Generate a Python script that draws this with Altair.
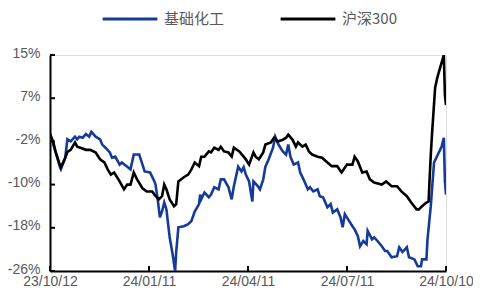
import altair as alt
import pandas as pd

# 沪深300 cumulative return (%)
hs_dates = [
    "2023-10-12", "2023-10-15", "2023-10-17", "2023-10-21", "2023-10-22", "2023-10-26", "2023-10-28",
    "2023-10-31", "2023-11-04", "2023-11-06", "2023-11-09", "2023-11-14", "2023-11-18", "2023-11-23",
    "2023-11-27", "2023-12-01", "2023-12-04", "2023-12-07", "2023-12-10", "2023-12-15", "2023-12-19",
    "2023-12-22", "2023-12-25", "2023-12-28", "2023-12-31", "2024-01-05", "2024-01-09", "2024-01-14",
    "2024-01-16", "2024-01-20", "2024-01-23", "2024-01-25", "2024-01-27", "2024-01-30", "2024-02-03",
    "2024-02-05", "2024-02-07", "2024-02-12", "2024-02-16", "2024-02-19", "2024-02-22", "2024-02-26",
    "2024-02-28", "2024-03-02", "2024-03-06", "2024-03-08", "2024-03-11", "2024-03-15", "2024-03-17",
    "2024-03-20", "2024-03-24", "2024-03-27", "2024-03-29", "2024-04-03", "2024-04-07", "2024-04-09",
    "2024-04-12", "2024-04-16", "2024-04-18", "2024-04-21", "2024-04-25", "2024-04-27", "2024-05-02",
    "2024-05-05", "2024-05-08", "2024-05-13", "2024-05-16", "2024-05-18", "2024-05-22", "2024-05-25",
    "2024-05-27", "2024-05-31", "2024-06-03", "2024-06-06", "2024-06-09", "2024-06-14", "2024-06-18",
    "2024-06-23", "2024-06-27", "2024-07-02", "2024-07-06", "2024-07-11", "2024-07-16", "2024-07-18",
    "2024-07-21", "2024-07-25", "2024-07-29", "2024-08-01", "2024-08-05", "2024-08-12", "2024-08-16",
    "2024-08-21", "2024-08-26", "2024-08-30", "2024-09-04", "2024-09-08", "2024-09-13", "2024-09-15",
    "2024-09-18", "2024-09-22", "2024-09-24", "2024-09-25", "2024-09-26", "2024-09-27", "2024-09-30",
    "2024-10-02", "2024-10-08", "2024-10-09", "2024-10-10",
]
hs_values = [
    0.0, -1.5, -3.3, -5.8, -6.3, -4.5, -3.4,
    -3.0, -1.6, -2.4, -2.6, -3.0, -3.0, -3.5,
    -4.8, -5.4, -6.7, -7.7, -7.3, -9.0, -10.5,
    -9.6, -9.6, -7.3, -8.6, -10.3, -10.9, -10.9,
    -11.5, -12.4, -11.8, -9.6, -10.5, -12.4, -13.7,
    -13.3, -9.0, -8.2, -7.7, -6.7, -5.4, -6.1,
    -4.3, -4.3, -3.3, -3.5, -2.6, -3.0, -2.4,
    -3.3, -3.5, -4.3, -2.6, -3.3, -4.3, -4.8,
    -5.8, -3.5, -4.3, -4.8, -3.5, -2.0, -1.6,
    -0.7, -1.4, -1.1, -0.7, -0.1, -1.1, -2.4,
    -1.6, -2.4, -2.0, -3.3, -3.9, -4.3, -4.5,
    -5.4, -6.1, -6.1, -7.3, -5.8, -5.8, -4.3,
    -5.2, -7.3, -7.1, -8.6, -9.2, -9.6, -9.0,
    -9.9, -9.9, -10.9, -11.8, -13.0, -14.3, -14.3,
    -13.7, -13.0, -12.8, -8.2, -4.0, -0.5, 8.8,
    10.7, 15.0, 7.4, 5.5,
]

# 基础化工 cumulative return (%)
chem_dates = [
    "2023-10-12", "2023-10-17", "2023-10-21", "2023-10-22", "2023-10-26", "2023-10-28", "2023-10-31",
    "2023-11-04", "2023-11-06", "2023-11-08", "2023-11-11", "2023-11-14", "2023-11-17", "2023-11-19",
    "2023-11-23", "2023-11-27", "2023-11-29", "2023-12-02", "2023-12-06", "2023-12-08", "2023-12-11",
    "2023-12-15", "2023-12-17", "2023-12-22", "2023-12-25", "2023-12-28", "2024-01-02", "2024-01-05",
    "2024-01-07", "2024-01-12", "2024-01-16", "2024-01-17", "2024-01-19", "2024-01-21", "2024-01-23",
    "2024-01-25", "2024-01-27", "2024-01-30", "2024-02-02", "2024-02-04", "2024-02-05", "2024-02-07",
    "2024-02-12", "2024-02-16", "2024-02-19", "2024-02-22", "2024-02-26", "2024-02-27", "2024-02-28",
    "2024-03-02", "2024-03-06", "2024-03-08", "2024-03-11", "2024-03-15", "2024-03-17", "2024-03-20",
    "2024-03-24", "2024-03-27", "2024-03-29", "2024-04-02", "2024-04-05", "2024-04-07", "2024-04-09",
    "2024-04-12", "2024-04-15", "2024-04-16", "2024-04-20", "2024-04-22", "2024-04-25", "2024-04-27",
    "2024-04-30", "2024-05-04", "2024-05-06", "2024-05-09", "2024-05-13", "2024-05-16", "2024-05-18",
    "2024-05-20", "2024-05-23", "2024-05-27", "2024-05-29", "2024-06-01", "2024-06-05", "2024-06-07",
    "2024-06-10", "2024-06-14", "2024-06-16", "2024-06-19", "2024-06-23", "2024-06-26", "2024-06-28",
    "2024-07-02", "2024-07-05", "2024-07-07", "2024-07-09", "2024-07-12", "2024-07-16", "2024-07-18",
    "2024-07-21", "2024-07-23", "2024-07-26", "2024-07-29", "2024-07-30", "2024-08-03", "2024-08-05",
    "2024-08-08", "2024-08-12", "2024-08-15", "2024-08-17", "2024-08-21", "2024-08-26", "2024-08-28",
    "2024-08-31", "2024-09-04", "2024-09-06", "2024-09-11", "2024-09-14", "2024-09-17", "2024-09-18",
    "2024-09-22", "2024-09-23", "2024-09-26", "2024-09-29", "2024-10-06", "2024-10-08", "2024-10-09",
    "2024-10-10",
]
chem_values = [
    0.0, -3.3, -6.2, -6.7, -4.5, -1.0, -1.4,
    -0.5, -1.0, -0.5, -0.7, 0.0, -0.5, 0.4,
    -0.5, -1.0, -2.0, -2.6, -3.5, -4.5, -4.3,
    -5.8, -5.4, -6.2, -6.7, -3.9, -3.9, -5.8,
    -7.1, -7.3, -9.0, -9.6, -12.4, -15.8, -14.7,
    -13.0, -14.3, -19.6, -23.2, -26.0, -22.4, -17.7,
    -17.5, -17.1, -16.5, -14.7, -13.3, -11.5, -12.4,
    -11.1, -12.0, -11.5, -10.1, -10.5, -8.6, -8.6,
    -10.1, -12.4, -9.9, -6.2, -7.1, -6.3, -7.7,
    -9.0, -12.8, -9.0, -9.9, -10.5, -8.6, -6.2,
    -4.8, -2.6, -0.5, -2.0, -3.3, -3.9, -2.0,
    -4.3, -5.8, -5.4, -7.3, -8.6, -10.5, -10.1,
    -10.9, -10.5, -11.8, -12.0, -13.9, -13.3, -14.9,
    -14.3, -15.8, -17.7, -15.2, -16.2, -17.5, -18.1,
    -19.4, -21.3, -20.3, -20.9, -18.4, -20.0, -19.6,
    -20.3, -21.3, -22.2, -22.2, -23.4, -23.2, -21.5,
    -22.4, -21.5, -23.4, -23.8, -25.1, -25.1, -23.8,
    -23.8, -20.0, -13.7, -5.4, -2.4, -0.7, -9.0,
    -11.5,
]

series_names = ["基础化工", "沪深300"]
series_colors = ["#163a98", "#000000"]

y_tick_values = [15, 6.8, -1.4, -9.6, -17.8, -26]
y_tick_labels = ["15%", "7%", "-2%", "-10%", "-18%", "-26%"]
x_tick_dates = ["2023-10-12", "2024-01-11", "2024-04-11", "2024-07-11", "2024-10-10"]

df = pd.concat([
    pd.DataFrame({"date": pd.to_datetime(chem_dates), "value": chem_values,
                  "series": series_names[0], "order": 0}),
    pd.DataFrame({"date": pd.to_datetime(hs_dates), "value": hs_values,
                  "series": series_names[1], "order": 1}),
], ignore_index=True)

W, H = 396, 216
font = "Liberation Sans"
grey = "#595959"

# label expression for y axis
expr = "''"
for v, lab in zip(y_tick_values, y_tick_labels):
    expr = f"abs(datum.value - ({v})) < 0.5 ? '{lab}' : " + expr

x_dt = [alt.DateTime(year=int(d[:4]), month=int(d[5:7]), date=int(d[8:10])) for d in x_tick_dates]

x_scale = alt.Scale(domain=[x_dt[0], x_dt[-1]])
y_scale = alt.Scale(domain=[-26, 15], nice=False, zero=False)

lines = alt.Chart(df).mark_line(strokeWidth=2.6, clip=True).encode(
    x=alt.X("date:T", scale=x_scale, title=None,
            axis=alt.Axis(values=x_dt, format="%y/%m/%d", tickSize=0, labelPadding=3,
                          labelFont=font, labelFontSize=14, labelColor=grey,
                          domainColor="#000000", domainWidth=2, grid=False,
                          labelOverlap=False, labelFlush=False)),
    y=alt.Y("value:Q", scale=y_scale, title=None,
            axis=alt.Axis(values=y_tick_values, labelExpr=expr, tickSize=0, labelPadding=10,
                          labelOffset=-2,
                          labelFont=font, labelFontSize=14, labelColor=grey,
                          domainColor="#000000", domainWidth=2, grid=False,
                          labelOverlap=False, labelFlush=False)),
    color=alt.Color("series:N", scale=alt.Scale(domain=series_names, range=series_colors),
                    sort=series_names,
                    legend=alt.Legend(title=None, orient="none", direction="horizontal",
                                      legendX=51, legendY=-65,
                                      symbolType="stroke", symbolSize=3000, symbolStrokeWidth=3,
                                      labelFont="Noto Sans CJK SC", labelFontSize=15,
                                      labelColor=grey, labelOffset=5, columnPadding=49)),
    order=alt.Order("order:Q"),
    detail="series:N",
)

xt = pd.DataFrame({"date": pd.to_datetime(x_tick_dates)})
x_ticks = alt.Chart(xt).mark_rule(color="#000000", strokeWidth=2).encode(
    x=alt.X("date:T", scale=x_scale),
    y=alt.value(H), y2=alt.value(H - 5),
)
yt = pd.DataFrame({"v": y_tick_values})
y_ticks = alt.Chart(yt).mark_rule(color="#000000", strokeWidth=2).encode(
    y=alt.Y("v:Q", scale=y_scale),
    x=alt.value(0), x2=alt.value(5),
)

chart = alt.layer(lines, x_ticks, y_ticks).properties(
    width=W, height=H,
    autosize=alt.AutoSizeParams(type="none"),
    padding={"left": 42, "top": 47, "right": 27, "bottom": 16},
).configure_view(stroke=None).configure(background="#ffffff")

chart.save("out.html", embed_options={"renderer": "svg", "actions": False})
